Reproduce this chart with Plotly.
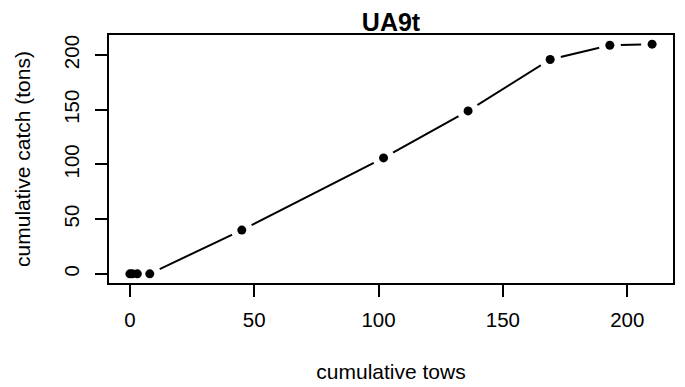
import plotly.graph_objects as go

tows = [0, 1, 3, 8, 45, 102, 136, 169, 193, 210]
catch = [0, 0, 0, 0, 40, 106, 149, 196, 209, 210]
x_ticks = [0, 50, 100, 150, 200]
y_ticks = [0, 50, 100, 150, 200]

fig = go.Figure()
fig.add_trace(go.Scatter(x=tows, y=catch, mode="lines",
                         line=dict(color="black", width=2), hoverinfo="skip"))
# white halos to create gaps like R type="b"
fig.add_trace(go.Scatter(x=tows, y=catch, mode="markers",
                         marker=dict(color="white", size=22, line=dict(width=0)), hoverinfo="skip"))
fig.add_trace(go.Scatter(x=tows, y=catch, mode="markers",
                         marker=dict(color="black", size=9, line=dict(width=0))))

font = "Liberation Sans, Arial, Helvetica, sans-serif"
axis_common = dict(showgrid=False, zeroline=False, showline=True, mirror=True,
                   linecolor="black", linewidth=2, ticks="outside", ticklen=12,
                   tickwidth=2, tickcolor="black", automargin=False,
                   tickfont=dict(family=font, size=20.5, color="black"))

fig.update_layout(
    width=685, height=387,
    margin=dict(l=109, r=12, t=35, b=104),
    paper_bgcolor="white", plot_bgcolor="white",
    showlegend=False,
    title=dict(text="<b>UA9t</b>", x=(109 + 673) / 2 / 685, xanchor="center",
               y=1 - 22 / 387, yanchor="middle",
               font=dict(family=font, size=25, color="black")),
    xaxis=dict(range=[-8.4, 218.4], tickvals=x_ticks, ticktext=[str(v) for v in x_ticks],
               ticklabelstandoff=5,
               title=dict(text="cumulative tows", standoff=35,
                          font=dict(family=font, size=21, color="black")),
               **axis_common),
    yaxis=dict(range=[-8.4, 218.4], tickvals=y_ticks, ticktext=[str(v) for v in y_ticks],
               tickangle=-90, ticklabelstandoff=8,
               title=dict(text="cumulative catch (tons)", standoff=23,
                          font=dict(family=font, size=21, color="black")),
               **axis_common),
)

fig.write_html("out.html", config={"displayModeBar": False},
               post_script="document.body.style.margin='0px';")
